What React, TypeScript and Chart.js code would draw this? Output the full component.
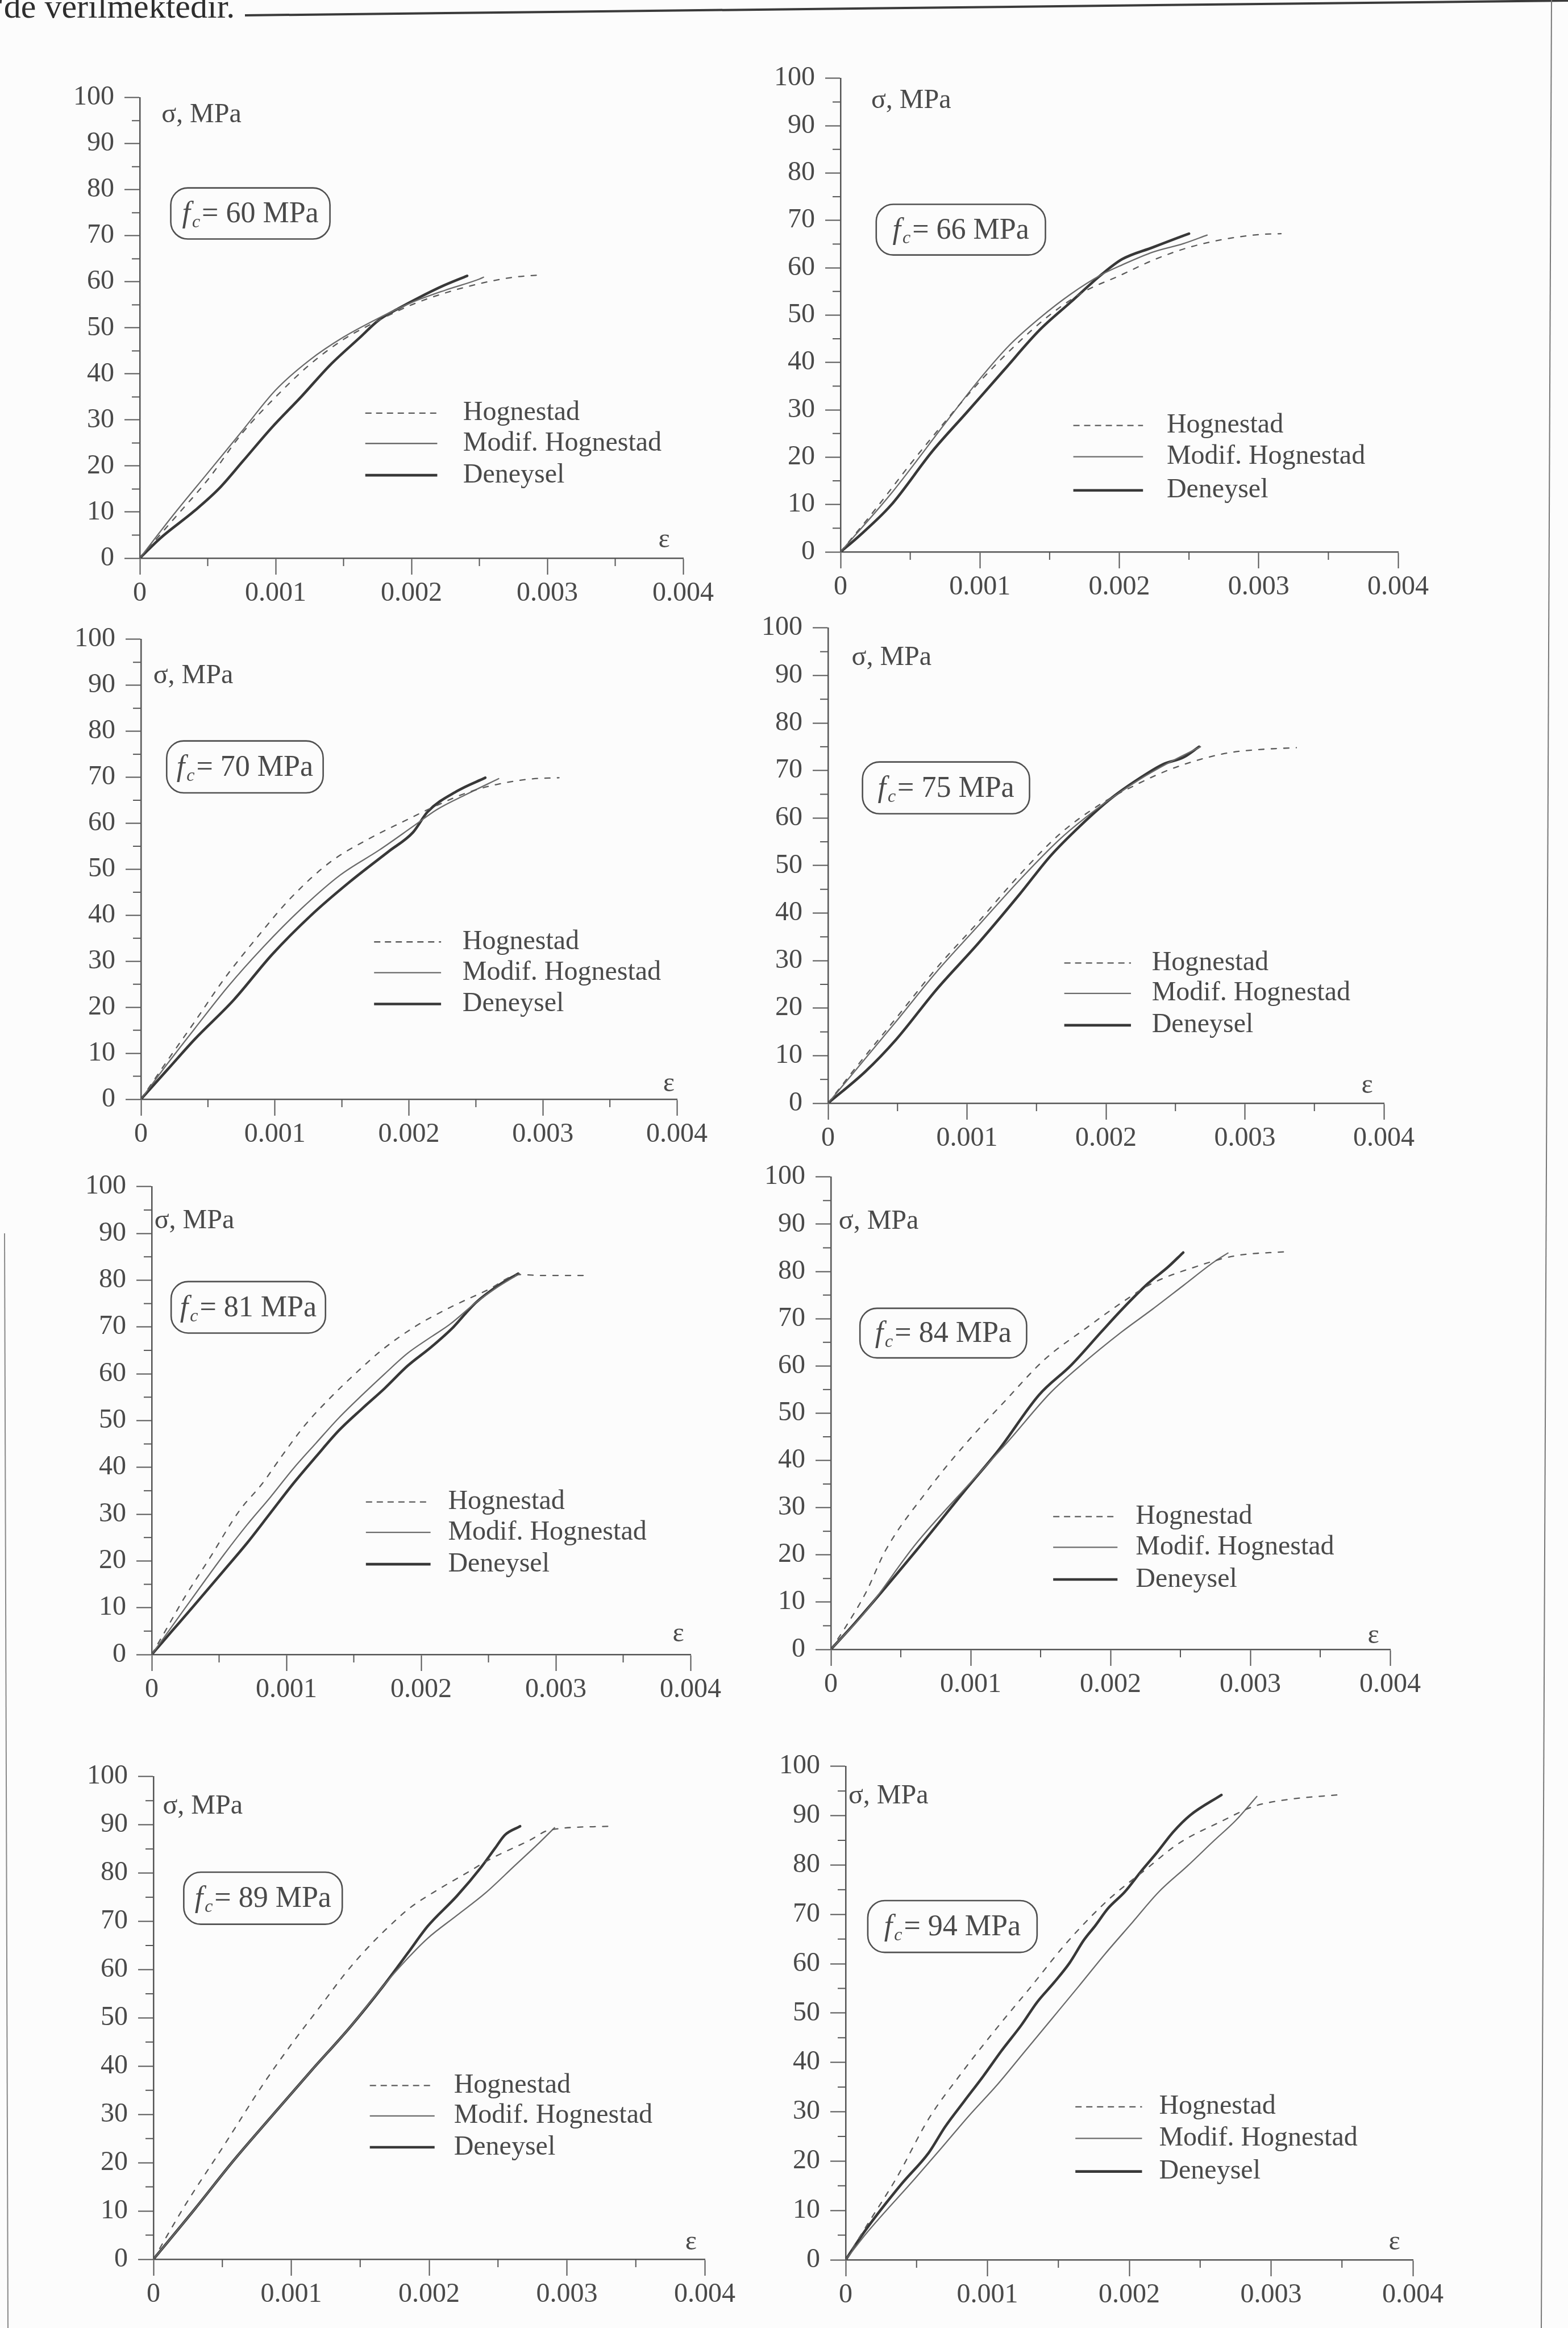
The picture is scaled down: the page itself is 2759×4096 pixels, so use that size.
import React, { useEffect, useRef } from "react";
import { Chart, registerables } from "chart.js";

Chart.register(...registerables);

type Pt = [number, number];

// ---------------- data ----------------
const SERIES_NAMES = ["Hognestad", "Modif. Hognestad", "Deneysel"];
const FC_VALUES = [60, 66, 70, 75, 81, 84, 89, 94];
const X_TICKS = [0, 0.001, 0.002, 0.003, 0.004];
const X_TICK_LABELS = ["0", "0.001", "0.002", "0.003", "0.004"];
const X_MINOR_TICKS = [0.0005, 0.0015, 0.0025, 0.0035];
const Y_TICKS = [0, 10, 20, 30, 40, 50, 60, 70, 80, 90, 100];
const Y_TICK_LABELS = ["0", "10", "20", "30", "40", "50", "60", "70", "80", "90", "100"];
const Y_MINOR_TICKS = [5, 15, 25, 35, 45, 55, 65, 75, 85, 95];
const Y_TITLE = "σ, MPa";
const X_TITLE = "ε";
const TOP_TEXT = "'de verilmektedir.";

// fc = 60 MPa
const HOG_60: Pt[] = [[0,0],[0.00025,8.5],[0.0005,17],[0.00075,27],[0.001,35],[0.00125,42],[0.0015,47.5],[0.00175,51.5],[0.002,55],[0.00225,57.6],[0.0025,59.6],[0.00275,61],[0.00295,61.5]];
const MOD_60: Pt[] = [[0,0],[0.00025,9.5],[0.0005,18.5],[0.00075,27.5],[0.001,36.5],[0.00125,43],[0.0015,48],[0.00175,52],[0.002,55.5],[0.00225,58.2],[0.0025,60.6],[0.00253,61]];
const DEN_60: Pt[] = [[0,0],[0.00015,4.3],[0.0004,10.2],[0.00058,15],[0.00076,21.1],[0.00097,28.3],[0.00119,35.1],[0.0014,41.9],[0.00162,47.9],[0.00176,51.7],[0.00191,54.3],[0.00205,56.5],[0.00223,59.1],[0.00241,61.3]];
// fc = 66 MPa
const HOG_66: Pt[] = [[0,0],[0.00025,9],[0.0005,18.5],[0.00075,27.5],[0.001,36],[0.00125,43.5],[0.0015,50],[0.00175,55],[0.002,58.3],[0.00225,61.7],[0.0025,64.3],[0.00275,66],[0.003,67],[0.00316,67.2]];
const MOD_66: Pt[] = [[0,0],[0.00036,12.2],[0.00077,27.9],[0.00099,36.2],[0.00121,43.6],[0.00143,49.4],[0.00165,54.4],[0.00187,58.5],[0.00202,60.6],[0.00224,63.3],[0.00246,65.1],[0.00263,66.9]];
const DEN_66: Pt[] = [[0,0],[0.00012,3],[0.00036,9.8],[0.00066,21.3],[0.00091,29.6],[0.00117,38.3],[0.00143,46.9],[0.00165,52.7],[0.00187,58.5],[0.00202,61.8],[0.00224,64.3],[0.00239,66],[0.0025,67.2]];
// fc = 70 MPa
const HOG_70: Pt[] = [[0,0],[0.0002,8.5],[0.0004,16.8],[0.00062,26.1],[0.00087,35.3],[0.00112,43.8],[0.00141,51.5],[0.0017,56.6],[0.00196,60.4],[0.00221,63.9],[0.00243,66.6],[0.00265,68.4],[0.0029,69.6],[0.00312,69.9]];
const MOD_70: Pt[] = [[0,0],[0.0002,7.8],[0.0004,15.3],[0.00065,24.5],[0.00091,33],[0.0012,41.5],[0.00149,48.8],[0.00178,54.2],[0.00203,59.3],[0.00221,63],[0.00243,66.3],[0.00267,69.7]];
const DEN_70: Pt[] = [[0,0],[0.0002,6.5],[0.0004,13],[0.00069,21.5],[0.00098,31.5],[0.00127,40],[0.00156,47.3],[0.00185,53.9],[0.00203,58],[0.00214,62.5],[0.00236,67],[0.00257,69.9]];
// fc = 75 MPa
const HOG_75: Pt[] = [[0,0],[0.0002,7.5],[0.00049,17.9],[0.00078,28.4],[0.00108,38.1],[0.00138,48.1],[0.00167,56.7],[0.00197,63.1],[0.00223,67.2],[0.00245,70.1],[0.0027,72.5],[0.0029,73.8],[0.0031,74.4],[0.00337,74.8]];
const MOD_75: Pt[] = [[0,0],[0.0002,7],[0.00049,17.2],[0.00078,27.6],[0.00108,37.3],[0.00138,47],[0.00167,55.6],[0.00197,62.7],[0.00223,67.9],[0.00245,71.6],[0.00268,75]];
const DEN_75: Pt[] = [[0,0],[0.00027,6.7],[0.00049,13.4],[0.00078,23.9],[0.00108,33.6],[0.00138,44],[0.0016,52],[0.00182,58.5],[0.00204,64.2],[0.00226,68.7],[0.00241,71.3],[0.00256,72.8],[0.00267,75]];
// fc = 81 MPa
const HOG_81: Pt[] = [[0,0],[0.0001,5],[0.00025,12.5],[0.000424,20.3],[0.00065,30.7],[0.00082,36.5],[0.00097,42.6],[0.00114,49.1],[0.00132,54.7],[0.00151,60],[0.00171,65.1],[0.00195,70],[0.00221,74.1],[0.0025,78],[0.00273,81.2],[0.0029,81],[0.00321,81]];
const MOD_81: Pt[] = [[0,0],[0.0002,8],[0.0004,16],[0.00054,21.5],[0.00071,27.8],[0.00088,33.6],[0.00105,39.7],[0.00122,45.2],[0.00139,50.6],[0.00156,55.4],[0.00173,60],[0.0019,64.4],[0.00207,67.8],[0.00221,70.5],[0.00241,75.3],[0.00255,78.2],[0.00273,81.4]];
const DEN_81: Pt[] = [[0,0],[0.00015,5],[0.0003,10],[0.00054,18.1],[0.00071,23.9],[0.00088,30.2],[0.00105,36.5],[0.00122,42.3],[0.00139,47.9],[0.00156,52.5],[0.00173,56.9],[0.0019,61.7],[0.00207,65.6],[0.00224,70],[0.00233,72.9],[0.00241,75.3],[0.00258,79],[0.00272,81.4]];
// fc = 84 MPa
const HOG_84: Pt[] = [[0,0],[0.0001,4.5],[0.00025,12],[0.00039,20.9],[0.00069,33.6],[0.00096,43.4],[0.00124,52.4],[0.00153,61.4],[0.00183,68.1],[0.00208,73.4],[0.0023,77.5],[0.0026,80.9],[0.00289,83.3],[0.00326,84.2]];
const MOD_84: Pt[] = [[0,0],[0.00025,8.1],[0.00061,22.4],[0.00098,34.7],[0.00127,44.1],[0.00157,54.3],[0.00179,60.2],[0.00208,67.2],[0.0023,72],[0.00252,77],[0.00274,82],[0.00284,83.9]];
const DEN_84: Pt[] = [[0,0],[0.00017,5.5],[0.00061,20.9],[0.00098,34.4],[0.0012,42.2],[0.00149,53.9],[0.00172,60.2],[0.00194,67.4],[0.00208,71.9],[0.00227,77.5],[0.00241,80.9],[0.00252,84]];
// fc = 89 MPa
const HOG_89: Pt[] = [[0,0],[0.00023,11.2],[0.00051,23.5],[0.00079,36],[0.001,44.5],[0.0012,52],[0.0014,59.5],[0.00157,65],[0.00176,70.3],[0.00187,73],[0.00206,76.5],[0.00227,80],[0.00245,83],[0.00273,86.8],[0.00287,88.9],[0.0033,89.7]];
const MOD_89: Pt[] = [[0,0],[0.0003,10.4],[0.00058,20.4],[0.00086,29.7],[0.00114,38.9],[0.00143,48.2],[0.00167,56.7],[0.00185,62.5],[0.00199,66.5],[0.0022,71.2],[0.00241,75.9],[0.00262,81.5],[0.0028,86.3],[0.00291,89.4]];
const DEN_89: Pt[] = [[0,0],[0.0003,10.4],[0.00058,20.4],[0.00086,29.7],[0.00114,38.9],[0.00143,48.2],[0.00167,56.7],[0.00185,63.6],[0.00199,69],[0.0022,75.2],[0.00238,81.3],[0.00248,85.2],[0.00255,87.9],[0.00266,89.7]];
// fc = 94 MPa
const HOG_94: Pt[] = [[0,0],[0.00015,7],[0.000357,16.5],[0.000586,28.6],[0.0008,37.2],[0.00105,46.4],[0.0013,55.1],[0.00156,64.3],[0.00185,72.9],[0.00212,79.2],[0.00235,84.4],[0.00266,89],[0.00288,91.9],[0.0031,93.2],[0.0035,94.3]];
const MOD_94: Pt[] = [[0,0],[0.00015,5.5],[0.00049,16.5],[0.00068,22.8],[0.00087,29.2],[0.00107,35.5],[0.00126,42.1],[0.00145,48.7],[0.00164,55.3],[0.00183,62],[0.00202,68.3],[0.00221,74.6],[0.00241,79.8],[0.0026,85],[0.00275,89],[0.0029,93.9]];
const DEN_94: Pt[] = [[0,0],[0.00014,6],[0.000395,15.4],[0.000586,21.7],[0.0007,26.9],[0.000835,32.1],[0.00097,37.2],[0.0011,42.4],[0.00124,47.6],[0.00135,52.2],[0.00147,56.2],[0.00158,60.2],[0.00168,64.8],[0.00176,67.7],[0.00185,71.2],[0.00197,74.6],[0.00208,78.6],[0.0022,82.7],[0.00231,86.7],[0.00243,90.1],[0.00265,94.2]];

// ---------------- layout / style ----------------
const SERIF = '"Liberation Serif", "Times New Roman", serif';
const TEXT_COLOR = "#4a4a4a";
const AXIS_COLOR = "#555555";
const PAGE_BG = "#fcfcfc";
const PAD_L = 10, PAD_T = 40, PAD_R = 70, PAD_B = 10;
const Y_AXIS_W = 130, X_AXIS_H = 100;
const TICK_FONT = 48, LABEL_FONT = 48, BOX_FONT = 52;
const MINOR_TICK = 14;

const SERIES_STYLES = [
  { color: "#5a5a5a", width: 2.3, dash: [9, 13], legendDash: [11, 8] },
  { color: "#6a6a6a", width: 2.3, dash: [] as number[], legendDash: [] as number[] },
  { color: "#383838", width: 4.6, dash: [] as number[], legendDash: [] as number[] },
];

type Deco = {
  sigma: Pt;
  eps: Pt | null;
  box: [number, number, number, number];
  legend: { x1: number; x2: number; xt: number; ys: number[] };
};

const PANEL_BOXES = [
  { l: 246, r: 1202, t: 165, b: 982 },
  { l: 1479, r: 2460, t: 131, b: 971 },
  { l: 248, r: 1191, t: 1118, b: 1934 },
  { l: 1457, r: 2435, t: 1098, b: 1941 },
  { l: 267, r: 1215, t: 2081, b: 2911 },
  { l: 1462, r: 2446, t: 2064, b: 2902 },
  { l: 270, r: 1240, t: 3119, b: 3975 },
  { l: 1488, r: 2486, t: 3101, b: 3976 },
];

const PANEL_DECO: Deco[] = [
  { sigma: [0.00016, 96.2], eps: [0.00386, 3.9], box: [0.000228, 80.4, 0.0014, 69.3], legend: { x1: 0.00166, x2: 0.00219, xt: 0.00238, ys: [31.5, 24.9, 18.0] } },
  { sigma: [0.00022, 95.3], eps: null, box: [0.000256, 73.4, 0.00147, 62.7], legend: { x1: 0.00167, x2: 0.00217, xt: 0.00234, ys: [26.7, 20.1, 13.0] } },
  { sigma: [0.000092, 92.0], eps: [0.00394, 3.3], box: [0.000192, 77.9, 0.00136, 66.6], legend: { x1: 0.00174, x2: 0.00224, xt: 0.0024, ys: [34.2, 27.5, 20.7] } },
  { sigma: [0.00017, 93.7], eps: [0.00388, 3.7], box: [0.000248, 71.8, 0.00145, 60.9], legend: { x1: 0.0017, x2: 0.00218, xt: 0.00233, ys: [29.5, 23.1, 16.4] } },
  { sigma: [0.00002, 92.6], eps: [0.00391, 4.3], box: [0.000144, 79.7, 0.00129, 68.7], legend: { x1: 0.00159, x2: 0.00207, xt: 0.0022, ys: [32.6, 26.1, 19.3] } },
  { sigma: [0.000056, 90.6], eps: [0.00388, 2.9], box: [0.000208, 72.2, 0.0014, 61.7], legend: { x1: 0.00159, x2: 0.00205, xt: 0.00218, ys: [28.1, 21.6, 14.8] } },
  { sigma: [0.000068, 93.8], eps: [0.0039, 3.5], box: [0.00022, 80.2, 0.00137, 69.4], legend: { x1: 0.00157, x2: 0.00204, xt: 0.00218, ys: [36.0, 29.7, 23.2] } },
  { sigma: [0.00002, 94.0], eps: [0.00387, 3.5], box: [0.000156, 72.8, 0.00135, 62.3], legend: { x1: 0.00162, x2: 0.00209, xt: 0.00221, ys: [31.0, 24.6, 17.9] } },
];

const SERIES_BY_PANEL: Pt[][][] = [
  [HOG_60, MOD_60, DEN_60],
  [HOG_66, MOD_66, DEN_66],
  [HOG_70, MOD_70, DEN_70],
  [HOG_75, MOD_75, DEN_75],
  [HOG_81, MOD_81, DEN_81],
  [HOG_84, MOD_84, DEN_84],
  [HOG_89, MOD_89, DEN_89],
  [HOG_94, MOD_94, DEN_94],
];

function makeDeco(d: Deco, fc: number) {
  return {
    id: "panelDeco",
    afterDraw(chart: any) {
      const ctx: CanvasRenderingContext2D = chart.ctx;
      const xs = chart.scales.x;
      const ys = chart.scales.y;
      const X = (v: number) => xs.getPixelForValue(v);
      const Y = (v: number) => ys.getPixelForValue(v);
      ctx.save();
      ctx.setLineDash([]);
      ctx.strokeStyle = AXIS_COLOR;
      ctx.lineWidth = 2;
      const y0 = Y(0);
      const x0 = X(0);
      X_MINOR_TICKS.forEach((v) => {
        const px = X(v);
        ctx.beginPath();
        ctx.moveTo(px, y0);
        ctx.lineTo(px, y0 + MINOR_TICK);
        ctx.stroke();
      });
      Y_MINOR_TICKS.forEach((v) => {
        const py = Y(v);
        ctx.beginPath();
        ctx.moveTo(x0, py);
        ctx.lineTo(x0 - MINOR_TICK, py);
        ctx.stroke();
      });

      ctx.fillStyle = TEXT_COLOR;
      ctx.font = `${LABEL_FONT}px ${SERIF}`;
      ctx.textBaseline = "middle";
      ctx.textAlign = "left";
      ctx.fillText(Y_TITLE, X(d.sigma[0]), Y(d.sigma[1]));
      if (d.eps) {
        ctx.textAlign = "center";
        ctx.fillText(X_TITLE, X(d.eps[0]), Y(d.eps[1]));
      }

      // f_c box
      const bx1 = X(d.box[0]), by1 = Y(d.box[1]), bx2 = X(d.box[2]), by2 = Y(d.box[3]);
      ctx.beginPath();
      ctx.lineWidth = 2.6;
      ctx.strokeStyle = "#505050";
      if ((ctx as any).roundRect) {
        (ctx as any).roundRect(bx1, by1, bx2 - bx1, by2 - by1, 30);
      } else {
        ctx.rect(bx1, by1, bx2 - bx1, by2 - by1);
      }
      ctx.stroke();
      const fFont = `italic ${BOX_FONT}px ${SERIF}`;
      const cFont = `italic ${Math.round(BOX_FONT * 0.62)}px ${SERIF}`;
      const mFont = `${BOX_FONT}px ${SERIF}`;
      const rest = `= ${fc} MPa`;
      ctx.font = fFont;
      const wf = ctx.measureText("f").width + 3;
      ctx.font = cFont;
      const wc = ctx.measureText("c").width;
      ctx.font = mFont;
      const wr = ctx.measureText(rest).width;
      const total = wf + wc + 3 + wr;
      let tx = (bx1 + bx2) / 2 - total / 2;
      const ty = (by1 + by2) / 2 + 2;
      ctx.textAlign = "left";
      ctx.textBaseline = "middle";
      ctx.fillStyle = TEXT_COLOR;
      ctx.font = fFont;
      ctx.fillText("f", tx, ty);
      tx += wf;
      ctx.font = cFont;
      ctx.fillText("c", tx, ty + 14);
      tx += wc + 3;
      ctx.font = mFont;
      ctx.fillText(rest, tx, ty);

      // legend
      const lg = d.legend;
      SERIES_NAMES.forEach((name, i) => {
        const st = SERIES_STYLES[i];
        const py = Y(lg.ys[i]);
        ctx.beginPath();
        ctx.strokeStyle = st.color;
        ctx.lineWidth = st.width;
        ctx.setLineDash(st.legendDash);
        ctx.moveTo(X(lg.x1), py);
        ctx.lineTo(X(lg.x2), py);
        ctx.stroke();
        ctx.setLineDash([]);
        ctx.fillStyle = TEXT_COLOR;
        ctx.font = `${LABEL_FONT}px ${SERIF}`;
        ctx.textAlign = "left";
        ctx.textBaseline = "middle";
        ctx.fillText(name, X(lg.xt), py);
      });
      ctx.restore();
    },
  };
}

function makeConfig(idx: number): any {
  const series = SERIES_BY_PANEL[idx];
  const tickFont = { family: SERIF, size: TICK_FONT };
  return {
    type: "scatter",
    data: {
      datasets: series.map((pts, i) => ({
        label: SERIES_NAMES[i],
        data: pts.map(([x, y]) => ({ x, y })),
        showLine: true,
        fill: false,
        borderColor: SERIES_STYLES[i].color,
        borderWidth: SERIES_STYLES[i].width,
        borderDash: SERIES_STYLES[i].dash,
        pointRadius: 0,
        pointHoverRadius: 0,
        cubicInterpolationMode: "monotone",
        borderCapStyle: "round",
        borderJoinStyle: "round",
      })),
    },
    options: {
      responsive: false,
      animation: false,
      devicePixelRatio: 1,
      events: [],
      layout: { padding: { left: PAD_L, top: PAD_T, right: PAD_R, bottom: PAD_B } },
      plugins: { legend: { display: false }, tooltip: { enabled: false }, title: { display: false } },
      scales: {
        x: {
          type: "linear",
          min: 0,
          max: 0.004,
          afterBuildTicks: (s: any) => {
            s.ticks = X_TICKS.map((v) => ({ value: v }));
          },
          afterFit: (s: any) => {
            s.height = X_AXIS_H;
          },
          ticks: {
            autoSkip: false,
            maxRotation: 0,
            minRotation: 0,
            padding: 5,
            color: TEXT_COLOR,
            font: tickFont,
            callback: (_v: any, i: number) => X_TICK_LABELS[i],
          },
          grid: { display: true, drawOnChartArea: false, drawTicks: true, tickLength: 29, tickColor: AXIS_COLOR, tickWidth: 2 },
          border: { display: true, color: AXIS_COLOR, width: 2.5 },
        },
        y: {
          type: "linear",
          min: 0,
          max: 100,
          afterBuildTicks: (s: any) => {
            s.ticks = Y_TICKS.map((v) => ({ value: v }));
          },
          afterFit: (s: any) => {
            s.width = Y_AXIS_W;
          },
          ticks: {
            autoSkip: false,
            padding: 18,
            color: TEXT_COLOR,
            font: tickFont,
            callback: (_v: any, i: number) => Y_TICK_LABELS[i],
          },
          grid: { display: true, drawOnChartArea: false, drawTicks: true, tickLength: 27, tickColor: AXIS_COLOR, tickWidth: 2 },
          border: { display: true, color: AXIS_COLOR, width: 2.5 },
        },
      },
    },
    plugins: [makeDeco(PANEL_DECO[idx], FC_VALUES[idx])],
  };
}

function Panel({ idx }: { idx: number }) {
  const ref = useRef<HTMLCanvasElement>(null);
  const b = PANEL_BOXES[idx];
  const left = b.l - PAD_L - Y_AXIS_W;
  const top = b.t - PAD_T;
  const width = b.r + PAD_R - left;
  const height = b.b + X_AXIS_H + PAD_B - top;
  useEffect(() => {
    const chart = new Chart(ref.current as HTMLCanvasElement, makeConfig(idx));
    return () => chart.destroy();
  }, [idx]);
  return (
    <canvas
      ref={ref}
      width={width}
      height={height}
      style={{ position: "absolute", left, top, width, height }}
    />
  );
}

export default function App() {
  return (
    <div
      style={{
        position: "absolute",
        left: 0,
        top: 0,
        width: 2759,
        height: 4096,
        background: PAGE_BG,
        overflow: "hidden",
      }}
    >
      <svg width={2759} height={4096} style={{ position: "absolute", left: 0, top: 0 }}>
        <line x1={431} y1={27} x2={2759} y2={1} stroke="#3a3a3a" strokeWidth={4} />
        <line x1={2730} y1={0} x2={2712} y2={4096} stroke="#777" strokeWidth={2} />
        <line x1={8} y1={2170} x2={14} y2={4096} stroke="#888" strokeWidth={2} />
      </svg>
      <div
        style={{
          position: "absolute",
          left: -4,
          top: -19,
          fontFamily: SERIF,
          fontSize: 60,
          lineHeight: "60px",
          color: "#2e2e2e",
          whiteSpace: "nowrap",
        }}
      >
        {TOP_TEXT}
      </div>
      {FC_VALUES.map((_, i) => (
        <Panel key={i} idx={i} />
      ))}
    </div>
  );
}
